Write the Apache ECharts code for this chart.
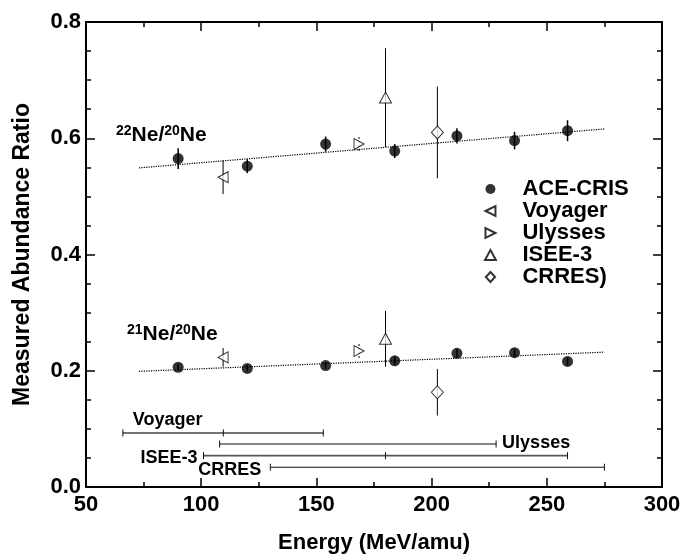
<!DOCTYPE html>
<html>
<head>
<meta charset="utf-8">
<script src="https://cdn.jsdelivr.net/npm/echarts@6/dist/echarts.min.js"></script>
<style>
  html, body { margin: 0; padding: 0; background: #fff; }
  #chart { width: 683px; height: 554px; }
</style>
</head>
<body>
<div id="chart"></div>
<script>
const FONT = '"Liberation Sans", Arial, Helvetica, sans-serif';

// ACE-CRIS measurements
const aceEnergy = [90, 120, 154, 184, 211, 236, 259];
const ace22 = [0.565, 0.552, 0.590, 0.578, 0.604, 0.596, 0.613];
const ace22Err = [0.018, 0.012, 0.013, 0.012, 0.013, 0.015, 0.018];
const ace21 = [0.206, 0.204, 0.209, 0.217, 0.230, 0.231, 0.216];
const ace21Err = [0.006, 0.006, 0.006, 0.007, 0.007, 0.007, 0.007];

// Other instruments: values are [22Ne/20Ne, 21Ne/20Ne]
const voyagerEnergy = 109.5;
const voyagerRatio = [0.533, 0.223];
const voyagerErr = [0.029, 0.016];

const ulyssesEnergy = 168.5;
const ulyssesRatio = [0.590, 0.234];
const ulyssesErr = [0.012, 0.012];

const iseeEnergy = 180;
const iseeRatio = [0.670, 0.255];
const iseeErr = [0.085, 0.048];

const crresEnergy = 202.5;
const crresRatio = [0.610, 0.163];
const crresErr = [0.079, 0.040];

// Dotted trend lines through the ACE-CRIS points
const fit22 = [[73, 0.549], [275, 0.616]];
const fit21 = [[73, 0.199], [275, 0.232]];

// Energy coverage of each instrument
const rangeNames = ['Voyager', 'Ulysses', 'ISEE-3', 'CRRES'];
const rangeLo = [66, 108, 101, 130];
const rangeHi = [153, 228, 259, 275];
const rangeLevel = [0.093, 0.074, 0.054, 0.034];
const rangeMid = [109.6, null, 180, null];

// Axis ticks
const xTicks = { min: 50, max: 300, step: 50 };
const yTicks = { min: 0, max: 0.8, step: 0.2 };

const legendNames = ['ACE-CRIS', 'Voyager', 'Ulysses', 'ISEE-3', 'CRRES)'];

// Marker shapes
const SYM_LEFT = 'path://M0,5L10,0L10,10Z';
const SYM_RIGHT = 'path://M10,5L0,0L0,10Z';
const SYM_UP = 'path://M6,0L12,11L0,11Z';
const SYM_DIAMOND = 'path://M6,0L12,6.5L6,13L0,6.5Z';

const chart = echarts.init(document.getElementById('chart'), null, { renderer: 'canvas' });

function errorBars(energies, values, errs) {
  return energies.map((e, i) => [e, values[i] - errs[i], values[i] + errs[i]]);
}

function errorBarRenderer(width, dash) {
  return function (params, api) {
    const p1 = api.coord([api.value(0), api.value(1)]);
    const p2 = api.coord([api.value(0), api.value(2)]);
    return {
      type: 'line',
      shape: { x1: p1[0], y1: p1[1], x2: p2[0], y2: p2[1] },
      style: { stroke: '#000', lineWidth: width, lineDash: dash || null }
    };
  };
}

// label placement and stroke for each coverage bar (pixel offsets)
const rangeLook = [
  { from: 'lo', dx: 10, dy: -13, align: 'left', stroke: '#444', width: 1.4 },
  { from: 'hi', dx: 6, dy: -1, align: 'left', stroke: '#111', width: 1 },
  { from: 'lo', dx: -6, dy: 2, align: 'right', stroke: '#555', width: 1.8 },
  { from: 'lo', dx: -72, dy: 3, align: 'left', stroke: '#111', width: 1 }
];

function rangeRenderer(params, api) {
  const i = params.dataIndex;
  const look = rangeLook[i];
  const a = api.coord([api.value(0), api.value(2)]);
  const b = api.coord([api.value(1), api.value(2)]);
  const cap = 3.5;
  const stroke = { stroke: look.stroke, lineWidth: look.width };
  const capStroke = { stroke: '#111', lineWidth: 1 };
  const children = [
    { type: 'line', shape: { x1: a[0], y1: a[1], x2: b[0], y2: b[1] }, style: stroke },
    { type: 'line', shape: { x1: a[0], y1: a[1] - cap, x2: a[0], y2: a[1] + cap }, style: capStroke },
    { type: 'line', shape: { x1: b[0], y1: b[1] - cap, x2: b[0], y2: b[1] + cap }, style: capStroke }
  ];
  const mid = rangeMid[i];
  if (mid != null) {
    const m = api.coord([mid, api.value(2)]);
    children.push({ type: 'line', shape: { x1: m[0], y1: m[1] - cap, x2: m[0], y2: m[1] + cap }, style: capStroke });
  }
  const anchor = look.from === 'lo' ? a : b;
  children.push({
    type: 'text',
    x: anchor[0] + look.dx,
    y: anchor[1] + look.dy,
    style: {
      text: rangeNames[i],
      fill: '#000',
      font: 'bold 18px ' + FONT,
      align: look.align,
      verticalAlign: 'middle'
    }
  });
  return { type: 'group', children };
}

const openMarker = { color: '#fff', borderColor: '#000', borderWidth: 1 };

function ratioLabel(a, b, x, y) {
  return {
    type: 'text',
    x: x,
    y: y,
    style: {
      text: '{s|' + a + '}{m|Ne/}{s|' + b + '}{m|Ne}',
      fill: '#000',
      verticalAlign: 'middle',
      rich: {
        m: { fontFamily: FONT, fontWeight: 'bold', fontSize: 21, lineHeight: 22, fill: '#000' },
        s: { fontFamily: FONT, fontWeight: 'bold', fontSize: 14, lineHeight: 14, verticalAlign: 'top', fill: '#000' }
      }
    }
  };
}

const axisCommon = {
  axisLine: { show: true, onZero: false, lineStyle: { color: '#000', width: 2 } },
  axisTick: { show: true, inside: true, length: 9, lineStyle: { color: '#000', width: 1.5 } },
  minorTick: { show: true, length: 5, lineStyle: { color: '#000', width: 1.5 } },
  splitLine: { show: false },
  minorSplitLine: { show: false }
};

const labelStyle = { fontFamily: FONT, fontWeight: 'bold', fontSize: 22, color: '#000' };

const option = {
  animation: false,
  backgroundColor: '#fff',
  grid: { left: 86, right: 21, top: 22, bottom: 67, containLabel: false, outerBoundsMode: 'none' },
  xAxis: [
    Object.assign({}, axisCommon, {
      type: 'value', position: 'bottom',
      min: xTicks.min, max: xTicks.max, interval: xTicks.step,
      minorTick: Object.assign({}, axisCommon.minorTick, { splitNumber: 2 }),
      axisLabel: Object.assign({ margin: 7 }, labelStyle),
      name: 'Energy (MeV/amu)', nameLocation: 'middle', nameGap: 45,
      nameTextStyle: labelStyle
    }),
    Object.assign({}, axisCommon, {
      type: 'value', position: 'top',
      min: xTicks.min, max: xTicks.max, interval: xTicks.step,
      minorTick: Object.assign({}, axisCommon.minorTick, { splitNumber: 2 }),
      axisLabel: { show: false }
    })
  ],
  yAxis: [
    Object.assign({}, axisCommon, {
      type: 'value', position: 'left',
      min: yTicks.min, max: yTicks.max, interval: yTicks.step,
      minorTick: Object.assign({}, axisCommon.minorTick, { splitNumber: 4 }),
      axisLabel: Object.assign({ margin: 5, formatter: v => v.toFixed(1) }, labelStyle),
      name: 'Measured Abundance Ratio', nameLocation: 'middle', nameGap: 52,
      nameRotate: 90, nameTextStyle: Object.assign({}, labelStyle, { fontSize: 23 })
    }),
    Object.assign({}, axisCommon, {
      type: 'value', position: 'right',
      min: yTicks.min, max: yTicks.max, interval: yTicks.step,
      minorTick: Object.assign({}, axisCommon.minorTick, { splitNumber: 4 }),
      axisLabel: { show: false }
    })
  ],
  legend: {
    data: legendNames,
    orient: 'vertical',
    left: 479,
    top: 173,
    itemWidth: 54,
    itemHeight: 10,
    itemGap: 0,
    selectedMode: false,
    textStyle: { fontFamily: FONT, fontWeight: 'bold', fontSize: 22, lineHeight: 20, color: '#000' }
  },
  graphic: [
    ratioLabel('22', '20', 116, 135),
    ratioLabel('21', '20', 127, 334)
  ],
  series: [
    { type: 'line', data: fit22, symbol: 'none', silent: true, z: 1,
      lineStyle: { color: '#000', width: 1.2, type: 'dotted' } },
    { type: 'line', data: fit21, symbol: 'none', silent: true, z: 1,
      lineStyle: { color: '#000', width: 1.2, type: 'dotted' } },
    { type: 'custom', renderItem: rangeRenderer, silent: true, z: 2,
      data: rangeNames.map((n, i) => [rangeLo[i], rangeHi[i], rangeLevel[i]]),
      encode: { x: [0, 1], y: 2 } },
    { type: 'custom', renderItem: errorBarRenderer(1.5), silent: true, z: 2,
      data: errorBars(aceEnergy, ace22, ace22Err).concat(errorBars(aceEnergy, ace21, ace21Err)),
      encode: { x: 0, y: [1, 2] } },
    { type: 'custom', renderItem: errorBarRenderer(1), silent: true, z: 2,
      data: errorBars([voyagerEnergy, voyagerEnergy], voyagerRatio, voyagerErr)
        .concat(errorBars([iseeEnergy, iseeEnergy], iseeRatio, iseeErr))
        .concat(errorBars([crresEnergy, crresEnergy], crresRatio, crresErr)),
      encode: { x: 0, y: [1, 2] } },
    { type: 'custom', renderItem: errorBarRenderer(1, [2, 2]), silent: true, z: 2,
      data: errorBars([ulyssesEnergy, ulyssesEnergy], ulyssesRatio, ulyssesErr),
      encode: { x: 0, y: [1, 2] } },
    { name: 'ACE-CRIS', type: 'scatter', z: 5, symbol: 'circle', symbolSize: 11,
      itemStyle: { color: '#000' },
      data: aceEnergy.map((e, i) => [e, ace22[i]]).concat(aceEnergy.map((e, i) => [e, ace21[i]])) },
    { name: 'Voyager', type: 'scatter', z: 5, symbol: SYM_LEFT, symbolSize: [10, 11],
      itemStyle: openMarker,
      data: voyagerRatio.map(v => [voyagerEnergy, v]) },
    { name: 'Ulysses', type: 'scatter', z: 5, symbol: SYM_RIGHT, symbolSize: [10, 11],
      itemStyle: openMarker,
      data: ulyssesRatio.map(v => [ulyssesEnergy, v]) },
    { name: 'ISEE-3', type: 'scatter', z: 5, symbol: SYM_UP, symbolSize: [12, 11],
      itemStyle: openMarker,
      data: iseeRatio.map(v => [iseeEnergy, v]) },
    { name: 'CRRES)', type: 'scatter', z: 5, symbol: SYM_DIAMOND, symbolSize: [12, 13],
      itemStyle: openMarker,
      data: crresRatio.map(v => [crresEnergy, v]) }
  ]
};

chart.setOption(option);
</script>
</body>
</html>
